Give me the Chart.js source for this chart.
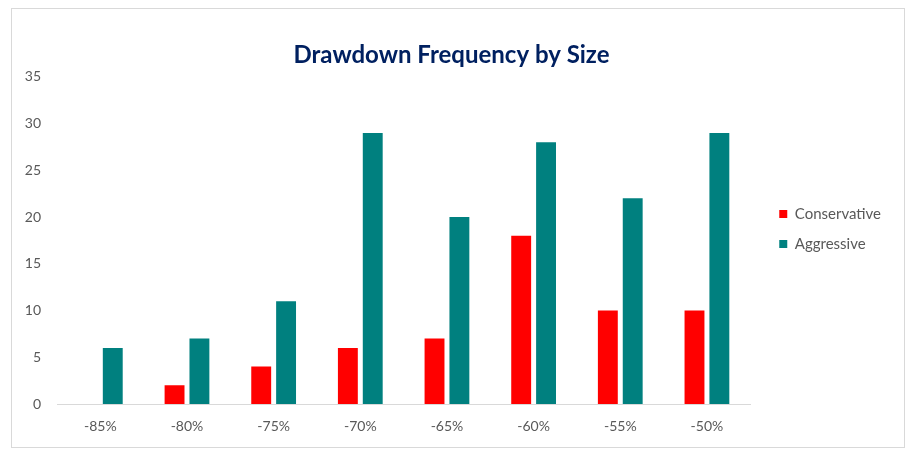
<!DOCTYPE html>
<html>
<head>
<meta charset="utf-8">
<script src="https://cdn.jsdelivr.net/npm/chart.js@4.4.0/dist/chart.umd.min.js"></script>
<style>
  html, body { margin: 0; padding: 0; background: #fff; }
  #chart { display: block; }
</style>
</head>
<body>
<canvas id="chart" width="915" height="458"></canvas>
<script>
// Chart data
const categories = ['-85%', '-80%', '-75%', '-70%', '-65%', '-60%', '-55%', '-50%'];
const conservative = [0, 2, 4, 6, 7, 18, 10, 10];
const aggressive = [6, 7, 11, 29, 20, 28, 22, 29];
const yTicks = [0, 5, 10, 15, 20, 25, 30, 35];

const tickColor = '#595959';
const fontFamily = 'Lato, "Open Sans", sans-serif';

// White background and light grey frame around the chart
const framePlugin = {
    id: 'frame',
    beforeDraw(chart) {
        const ctx = chart.ctx;
        ctx.save();
        ctx.fillStyle = '#ffffff';
        ctx.fillRect(0, 0, chart.width, chart.height);
        ctx.strokeStyle = '#d9d9d9';
        ctx.lineWidth = 1;
        ctx.strokeRect(11.5, 8.5, 893, 439);
        ctx.restore();
    }
};

new Chart(document.getElementById('chart'), {
    type: 'bar',
    data: {
        labels: categories,
        datasets: [
            { label: 'Conservative', data: conservative, backgroundColor: '#ff0000' },
            { label: 'Aggressive', data: aggressive, backgroundColor: '#00807f' }
        ]
    },
    options: {
        responsive: false,
        animation: false,
        devicePixelRatio: 1,
        categoryPercentage: 0.574,
        barPercentage: 0.8,
        layout: { padding: { left: 12, right: 24, top: 8, bottom: 24 } },
        plugins: {
            title: {
                display: true,
                text: 'Drawdown Frequency by Size',
                color: '#002060',
                font: { family: fontFamily, size: 24, weight: 'bold' },
                padding: { top: 33, bottom: 7 }
            },
            legend: {
                position: 'right',
                // blank title only pushes the items down a little
                title: { display: true, text: ' ', font: { size: 10 }, padding: 2 },
                labels: {
                    boxWidth: 8,
                    boxHeight: 8,
                    padding: 15,
                    color: tickColor,
                    font: { family: fontFamily, size: 15 }
                }
            },
            tooltip: { enabled: false }
        },
        scales: {
            x: {
                grid: { display: false },
                border: { color: '#d9d9d9' },
                ticks: { color: tickColor, font: { family: fontFamily, size: 14 }, padding: 6 },
                afterFit: s => { s.height = 30; }
            },
            y: {
                min: 0,
                max: 35,
                grid: { display: false },
                border: { display: false },
                afterBuildTicks: s => { s.ticks = yTicks.map(v => ({ value: v })); },
                ticks: { color: tickColor, font: { family: fontFamily, size: 14 }, padding: 8 },
                afterFit: s => { s.width = 45; }
            },
            // empty spacer between plot area and legend
            spacer: {
                position: 'right',
                display: true,
                grid: { display: false },
                border: { display: false },
                ticks: { display: false },
                afterFit: s => { s.width = 14; }
            }
        }
    },
    plugins: [framePlugin]
});
</script>
</body>
</html>
